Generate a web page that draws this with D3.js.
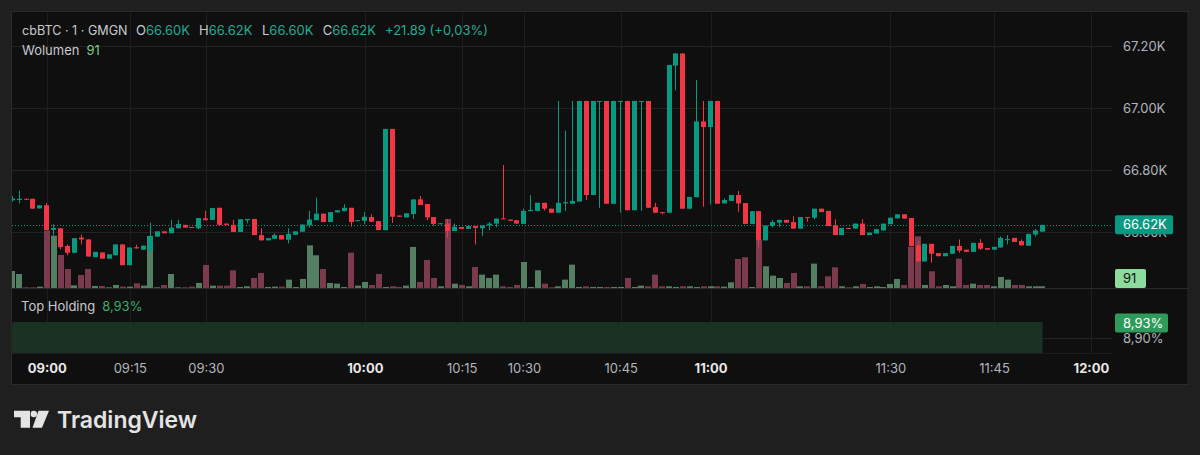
<!DOCTYPE html>
<html>
<head>
<meta charset="utf-8">
<script src="https://cdn.jsdelivr.net/npm/d3@7"></script>
<style>
html, body { margin: 0; padding: 0; background: #1f1f1f; }
svg { display: block; font-family: Inter, "Noto Sans", sans-serif; }
</style>
</head>
<body>
<script>
// cbBTC 1-minute candles, one entry per bar (gaps in time are skipped, like the original)
var opens = [66703,66704,66708,66708,66677,66687,66608,66613,66556,66534,66583,66577,66520,66535,66515,66526,66561,66494,66552,66544,
  66541,66586,66603,66597,66613,66624,66617,66613,66645,66640,66679,66628,66624,66601,66639,66643,66591,66574,66579,66591,
  66576,66592,66602,66622,66639,66660,66633,66664,66668,66679,66636,66637,66649,66636,66607,66933,66654,66648,66659,66706,
  66691,66649,66627,66628,66604,66617,66611,66620,66613,66622,66628,66645,66641,66639,66627,66668,66669,66695,66676,66663,
  66693,66692,66699,67023,66720,67020,67023,66692,67020,67023,66671,67020,67023,66681,66665,66663,67137,67176,66676,66713,
  66957,66939,67023,66693,66701,66720,66694,66627,66668,66574,66621,66631,66640,66633,66612,66649,66647,66676,66669,66622,
  66591,66614,66612,66628,66591,66596,66606,66626,66645,66658,66646,66558,66506,66563,66533,66523,66531,66556,66544,66537,
  66566,66549,66544,66551,66576,66582,66572,66557,66593,66602.1];
var highs = [66717,66734,66708,66708,66687,66694,66626,66613,66561,66581,66593,66577,66537,66535,66529,66561,66561,66551,66560,66557,
  66631,66603,66603,66640,66640,66624,66617,66646,66669,66678,66679,66628,66640,66642,66643,66643,66613,66581,66597,66591,
  66613,66603,66625,66669,66712,66660,66665,66671,66691,66679,66639,66665,66658,66636,66933,66933,66654,66661,66706,66717,
  66691,66649,66629,66643,66628,66617,66620,66620,66622,66633,66644,66817,66641,66639,66676,66720,66695,66695,66676,67023,
  66927,67023,67023,67023,67023,67023,67023,67023,67023,67023,67023,67023,67023,66695,66665,67139,67176,67176,66714,67090,
  67023,67023,67023,66709,66720,66733,66694,66668,66668,66622,66640,66640,66640,66652,66649,66649,66676,66676,66669,66642,
  66614,66614,66628,66642,66599,66610,66628,66647,66658,66658,66646,66572,66563,66563,66533,66533,66556,66577,66544,66566,
  66578,66549,66553,66587,66591,66582,66577,66595,66611,66624];
var lows = [66699,66693,66705,66676,66677,66607,66591,66545,66526,66534,66561,66522,66520,66515,66515,66526,66494,66494,66548,66544,
  66532,66586,66597,66597,66613,66615,66615,66610,66639,66640,66624,66624,66601,66601,66629,66591,66574,66574,66579,66577,
  66564,66592,66602,66615,66639,66633,66633,66664,66668,66618,66636,66626,66634,66607,66607,66630,66650,66648,66643,66688,
  66639,66621,66627,66583,66604,66611,66611,66561,66588,66607,66616,66642,66637,66628,66627,66668,66669,66670,66663,66663,
  66669,66692,66699,66704,66720,66679,66692,66692,66663,66671,66671,66669,66679,66663,66658,66663,67057,66676,66674,66713,
  66683,66690,66692,66693,66701,66666,66627,66627,66552,66574,66616,66616,66631,66612,66612,66634,66642,66665,66620,66591,
  66591,66612,66612,66591,66591,66596,66606,66626,66645,66644,66556,66506,66506,66502,66523,66523,66531,66534,66537,66537,
  66543,66544,66544,66551,66561,66569,66558,66557,66586,66602.1];
var closes = [66709,66708,66705,66676,66687,66607,66614,66552,66534,66581,66577,66522,66537,66515,66529,66561,66494,66551,66548,66557,
  66587,66603,66597,66615,66627,66615,66615,66646,66639,66678,66624,66624,66601,66642,66643,66591,66574,66581,66591,66577,
  66595,66603,66625,66641,66660,66633,66665,66671,66679,66633,66639,66650,66634,66607,66933,66650,66650,66661,66706,66688,
  66648,66627,66629,66604,66618,66611,66620,66614,66622,66628,66644,66642,66637,66628,66669,66672,66695,66676,66663,66695,
  66697,66701,67023,66720,67023,67023,66692,67023,67023,66671,67023,67023,66679,66663,66663,67139,67176,66676,66714,66957,
  66939,67023,66692,66704,66720,66693,66627,66668,66575,66622,66633,66640,66631,66612,66649,66647,66676,66665,66620,66591,
  66614,66612,66628,66591,66599,66610,66628,66647,66658,66644,66556,66506,66563,66531,66523,66533,66556,66541,66537,66566,
  66547,66544,66553,66582,66578,66569,66558,66595,66606,66623.99];
var volumes = [780,645,45,45,75,2600,2370,1500,870,135,600,870,105,105,45,150,75,75,225,120,
  2355,45,150,645,45,45,75,240,1050,120,120,120,810,60,90,465,690,60,75,75,
  390,60,420,1935,1485,870,240,210,60,1605,120,285,150,645,60,90,60,120,1860,285,
  1275,465,90,3120,210,150,90,960,615,465,615,90,60,150,1185,60,810,210,45,90,
  390,1065,60,90,60,60,60,60,60,465,60,120,90,615,90,90,60,90,90,60,
  90,90,90,75,270,1320,1395,60,2200,990,570,465,240,690,90,90,1110,90,540,945,
  90,45,90,195,60,90,60,195,420,150,1875,2340,150,765,90,150,90,1335,150,210,
  150,150,90,510,390,150,150,90,90,91];

// time labels sit on these bar numbers
var tickBars = [5, 17, 28, 51, 65, 74, 88, 101, 127, 142, 156];
var tickLabels = ["09:00","09:15","09:30","10:00","10:15","10:30","10:45","11:00","11:30","11:45","12:00"];
var priceTicks = [66600, 66800, 67000, 67200];

// Top Holding indicator (flat at 8,93%)
var holdingBars = [0, 149];
var holdingValues = [8.93, 8.93];
var holdingTicks = [8.90];

var lastVolume = 91, lastHolding = 8.93;

var UP = "#089981", DOWN = "#f23645";
var VOL_UP = "#557f63", VOL_DOWN = "#7c3b4c";

var data = opens.map(function (o, i) {
  return { i: i, open: o, high: highs[i], low: lows[i], close: closes[i], volume: volumes[i] };
});
var last = data[data.length - 1];
var change = last.close - last.open;

// scales
var x = d3.scaleLinear().domain([0, 159.2]).range([12.2, 1113]);
var y = d3.scaleLinear().domain([66600, 67200]).range([232.3, 46]);
var yVol = d3.scaleLinear().domain([0, 4500]).range([288.3, 188.3]);
var yHold = d3.scaleLinear().domain([8.90, 8.93]).range([338, 322]);

function kFmt(v) { return (Math.floor(v / 10) / 100).toFixed(2) + "K"; }
function pctFmt(v) { return v.toFixed(2).replace(".", ",") + "%"; }

var svg = d3.select("body").append("svg")
  .attr("width", 1200)
  .attr("height", 455);

svg.append("rect").attr("width", 1200).attr("height", 455).attr("fill", "#1f1f1f");
// chart frame
svg.append("rect")
  .attr("x", 11.5).attr("y", 11.5).attr("width", 1176.5).attr("height", 373)
  .attr("fill", "#0f0f0f").attr("stroke", "#2a2a2a");

var defs = svg.append("defs");
defs.append("clipPath").attr("id", "mainClip")
  .append("rect").attr("x", 12).attr("y", 12).attr("width", 1101).attr("height", 276);

// grid
var grid = svg.append("g").attr("class", "grid");
grid.selectAll("line.v").data(tickBars).enter().append("line")
  .attr("x1", function (d) { return Math.round(x(d)) + 0.5; })
  .attr("x2", function (d) { return Math.round(x(d)) + 0.5; })
  .attr("y1", 12).attr("y2", 353)
  .attr("stroke", "#1e1e1e");
grid.selectAll("line.h").data(priceTicks).enter().append("line")
  .attr("x1", 12).attr("x2", 1113)
  .attr("y1", function (d) { return Math.round(y(d)) + 0.5; })
  .attr("y2", function (d) { return Math.round(y(d)) + 0.5; })
  .attr("stroke", "#222222");
grid.selectAll("line.hh").data(holdingTicks).enter().append("line")
  .attr("x1", 12).attr("x2", 1113)
  .attr("y1", function (d) { return Math.round(yHold(d)) + 0.5; })
  .attr("y2", function (d) { return Math.round(yHold(d)) + 0.5; })
  .attr("stroke", "#222222");

// pane separators
svg.append("line").attr("x1", 12).attr("x2", 1188).attr("y1", 288.5).attr("y2", 288.5).attr("stroke", "#2a2a2a");
svg.append("line").attr("x1", 12).attr("x2", 1113).attr("y1", 353.5).attr("y2", 353.5).attr("stroke", "#1c1c1c");

var main = svg.append("g").attr("clip-path", "url(#mainClip)");

// volume
main.append("g").selectAll("rect").data(data).enter().append("rect")
  .attr("x", function (d) { return Math.round(x(d.i) - 3); })
  .attr("width", 6)
  .attr("y", function (d) { return yVol(d.volume); })
  .attr("height", function (d) { return yVol(0) - yVol(d.volume); })
  .attr("fill", function (d) { return d.close >= d.open ? VOL_UP : VOL_DOWN; });

// last price line
main.append("line")
  .attr("x1", 12).attr("x2", 1113)
  .attr("y1", Math.round(y(last.close)) + 0.5).attr("y2", Math.round(y(last.close)) + 0.5)
  .attr("stroke", UP).attr("stroke-dasharray", "1,2");

// candles
var candle = main.append("g").selectAll("g").data(data).enter().append("g");
candle.append("rect")
  .attr("x", function (d) { return Math.round(x(d.i) - 2.5) + 2; })
  .attr("width", 1)
  .attr("y", function (d) { return y(d.high); })
  .attr("height", function (d) { return Math.max(1, y(d.low) - y(d.high)); })
  .attr("fill", function (d) { return d.close >= d.open ? UP : DOWN; });
candle.append("rect")
  .attr("x", function (d) { return Math.round(x(d.i) - 2.5); })
  .attr("width", 5)
  .attr("y", function (d) { return y(Math.max(d.open, d.close)); })
  .attr("height", function (d) { return Math.max(1, Math.abs(y(d.open) - y(d.close))); })
  .attr("fill", function (d) { return d.close >= d.open ? UP : DOWN; });

// Top Holding area
var hold = holdingBars.map(function (b, i) { return { bar: b, value: holdingValues[i] }; });
svg.append("path").datum(hold)
  .attr("d", d3.area()
    .x(function (d) { return x(d.bar); })
    .y0(353)
    .y1(function (d) { return yHold(d.value); }))
  .attr("fill", "#1a3526")
  .attr("opacity", 0.95);

// price axis
var priceAxis = svg.append("g")
  .attr("transform", "translate(1113,0)")
  .call(d3.axisRight(y).tickValues(priceTicks).tickSize(0).tickPadding(10)
    .tickFormat(kFmt));
priceAxis.select(".domain").remove();
priceAxis.selectAll("text").attr("fill", "#b2b5be").style("font-size", "13px").style("font-family", "Inter, sans-serif");

var holdAxis = svg.append("g")
  .attr("transform", "translate(1113,0)")
  .call(d3.axisRight(yHold).tickValues(holdingTicks).tickSize(0).tickPadding(10)
    .tickFormat(pctFmt));
holdAxis.select(".domain").remove();
holdAxis.selectAll("text").attr("fill", "#b2b5be").style("font-size", "13px").style("font-family", "Inter, sans-serif");

// time axis
var timeAxis = svg.append("g")
  .attr("transform", "translate(0,360)")
  .call(d3.axisBottom(x).tickValues(tickBars).tickSize(0).tickPadding(4)
    .tickFormat(function (d, i) { return tickLabels[i]; }));
timeAxis.select(".domain").remove();
timeAxis.selectAll("text")
  .style("font-size", "13px").style("font-family", "Inter, sans-serif")
  .attr("fill", function (d, i) { return /:00$/.test(tickLabels[i]) ? "#e8e8e8" : "#b2b5be"; })
  .attr("font-weight", function (d, i) { return /:00$/.test(tickLabels[i]) ? 700 : 400; });

// value badges on the right scale
function badge(yc, w, fill, label, color) {
  svg.append("rect").attr("x", 1115).attr("y", yc - 9.5).attr("width", w).attr("height", 19)
    .attr("rx", 2).attr("fill", fill);
  svg.append("text").attr("x", 1123).attr("y", yc).attr("dy", "0.35em")
    .attr("fill", color).style("font-size", "13px").text(label);
}
badge(y(last.close), 58, UP, kFmt(last.close), "#ffffff");
badge(278.5, 31, "#8cdc9e", String(lastVolume), "#131313");
badge(yHold(lastHolding) + 1, 53, "#2f9b5a", pctFmt(lastHolding), "#ffffff");

// legends
var gray = "#c8cacf", teal = "#22ab94";
var head = svg.append("g").style("font-size", "13px");
head.append("text").attr("x", 22).attr("y", 35).attr("fill", gray)
  .style("font-size", "12.6px").text("cbBTC · 1 · GMGN");
var ohlc = [["O", last.open, 136], ["H", last.high, 199], ["L", last.low, 262], ["C", last.close, 322.7]];
ohlc.forEach(function (p) {
  var t = head.append("text").attr("x", p[2]).attr("y", 35).attr("fill", gray);
  t.append("tspan").text(p[0]);
  t.append("tspan").attr("fill", teal).text(kFmt(p[1]));
});
head.append("text").attr("x", 385).attr("y", 35).attr("fill", teal)
  .text("+" + change.toFixed(2) + " (+" + (change / last.open * 100).toFixed(2).replace(".", ",") + "%)");
var vt = head.append("text").attr("x", 22).attr("y", 55).attr("fill", gray);
vt.append("tspan").text("Wolumen");
vt.append("tspan").attr("dx", 7).attr("fill", "#7cc890").text(String(lastVolume));
var ht = head.append("text").attr("x", 21).attr("y", 311).attr("fill", gray);
ht.append("tspan").text("Top Holding");
ht.append("tspan").attr("dx", 7).attr("fill", "#3cab68").text(pctFmt(lastHolding));

// TradingView logo
var logo = svg.append("g").attr("fill", "#e4e4e4");
logo.append("path").attr("d", "M14,410.7 H30 V427.7 H20.7 V417.3 H14 Z");
logo.append("circle").attr("cx", 33.8).attr("cy", 414).attr("r", 3.2);
logo.append("path").attr("d", "M38.5,410.7 H49 L42,427.7 H32.5 Z");
logo.append("text").attr("x", 57).attr("y", 427.7)
  .style("font-size", "23px").attr("font-weight", 600).text("TradingView");
</script>
</body>
</html>
